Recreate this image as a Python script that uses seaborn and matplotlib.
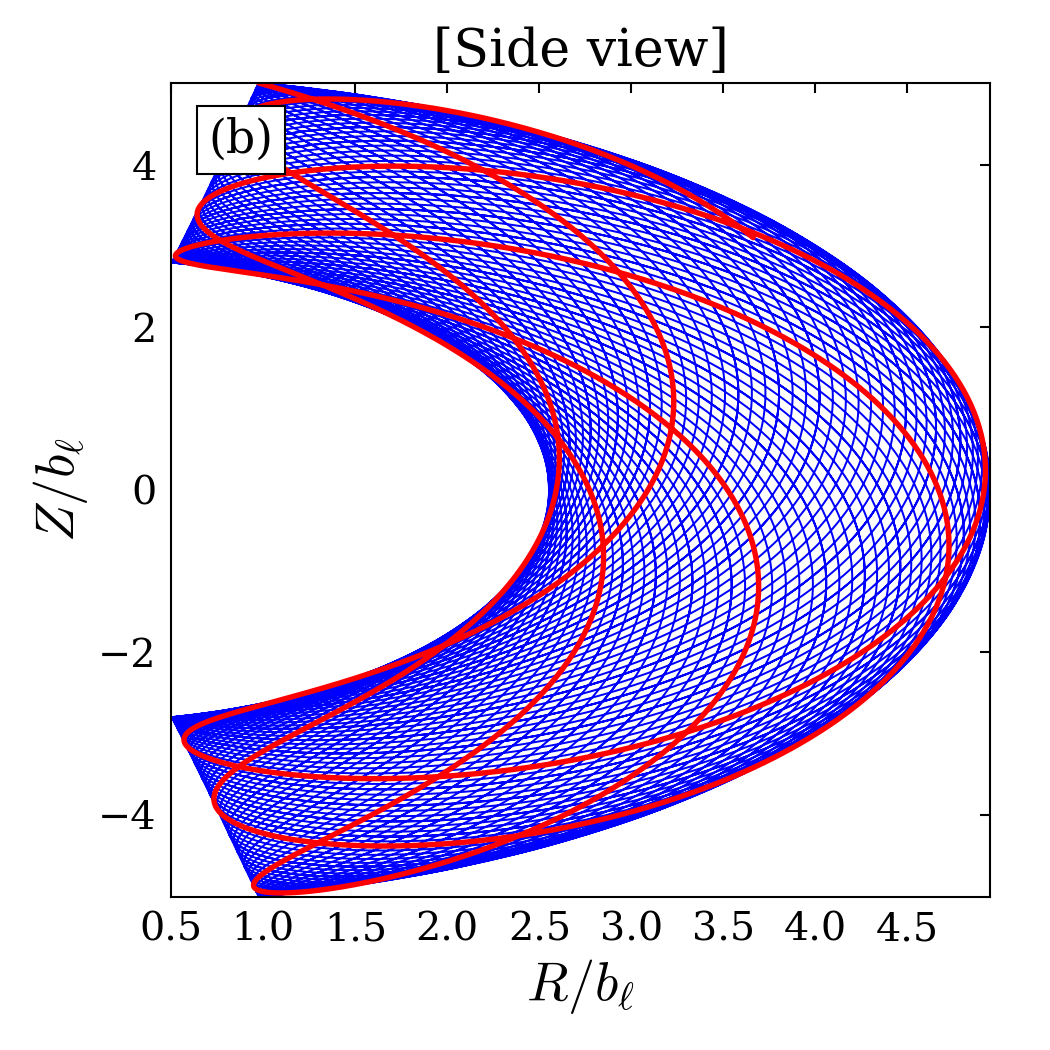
import numpy as np
import pandas as pd
import matplotlib
matplotlib.use("Agg")
import matplotlib.pyplot as plt
import seaborn as sns

# ---- values ----
focal_delta = 1.28            # focal distance of the confocal (u, v) grid
inner_R_mid = 2.553           # inner edge of the orbit at Z = 0
outer_R_mid = 4.95            # outer edge of the orbit at Z = 0
edge_sin = 0.197              # R / R_mid along the slanted top & bottom edges
freq_ratio = 1.29             # u-oscillations per v-oscillation
blue_v_periods = 62           # length of the blue (long) integration
red_v_half_periods = 6 + 1 / 3  # length of the red (short) segment
x_ticks = [0.5, 1.0, 1.5, 2.0, 2.5, 3.0, 3.5, 4.0, 4.5]
y_ticks = [-4, -2, 0, 2, 4]
title_text = "[Side view]"
panel_tag = "(b)"

# ---- orbit in confocal coordinates ----
u_in = np.arcsinh(inner_R_mid / focal_delta)
u_out = np.arcsinh(outer_R_mid / focal_delta)
v_min = np.arcsin(edge_sin)
u_c, u_a = (u_in + u_out) / 2, (u_out - u_in) / 2
v_c, v_a = np.pi / 2, np.pi / 2 - v_min


def orbit(t):
    u = u_c + u_a * np.cos(freq_ratio * t)
    v = v_c - v_a * np.cos(t)
    R = focal_delta * np.sinh(u) * np.sin(v)
    Z = focal_delta * np.cosh(u) * np.cos(v)
    return pd.DataFrame({"R": R, "Z": Z})


blue = orbit(np.linspace(0, 2 * np.pi * blue_v_periods, 62000))
red = orbit(np.linspace(0, np.pi * red_v_half_periods, 3000))

# ---- style ----
sns.set_style("white")
plt.rcParams.update({
    "font.family": ["DejaVu Serif"],
    "mathtext.fontset": "cm",
    "text.color": "black",
    "axes.labelcolor": "black",
    "xtick.color": "black",
    "ytick.color": "black",
    "xtick.direction": "in",
    "ytick.direction": "in",
    "xtick.top": True,
    "ytick.right": True,
    "xtick.major.size": 5,
    "ytick.major.size": 5,
    "xtick.major.width": 1,
    "ytick.major.width": 1,
    "axes.linewidth": 1.0,
    "axes.edgecolor": "black",
})

fig = plt.figure(figsize=(7, 7), dpi=150)
ax = fig.add_axes([0.163, 0.146, 0.780, 0.775])

sns.lineplot(data=blue, x="R", y="Z", sort=False, estimator=None,
             color="blue", lw=0.95, ax=ax)
sns.lineplot(data=red, x="R", y="Z", sort=False, estimator=None,
             color="red", lw=2.6, ax=ax)

ax.margins(0)
ax.set_xticks(x_ticks)
ax.set_yticks(y_ticks)
ax.set_xticklabels([f"{t:.1f}" for t in x_ticks])
ax.tick_params(labelsize=19, pad=7, colors="black")
ax.set_xlabel(r"$R/b_\ell$", fontsize=26, labelpad=4, color="black")
ax.set_ylabel(r"$Z/b_\ell$", fontsize=26, labelpad=4, color="black")
ax.set_title(title_text, fontsize=25, pad=8, color="black")
ax.text(0.085, 0.93, panel_tag, transform=ax.transAxes, fontsize=22,
        ha="center", va="center", zorder=10, color="black",
        bbox=dict(boxstyle="square,pad=0.25", facecolor="white",
                  edgecolor="black", lw=1.0))
for s in ax.spines.values():
    s.set_visible(True)
    s.set_color("black")

fig.savefig("out.png", dpi=150)
